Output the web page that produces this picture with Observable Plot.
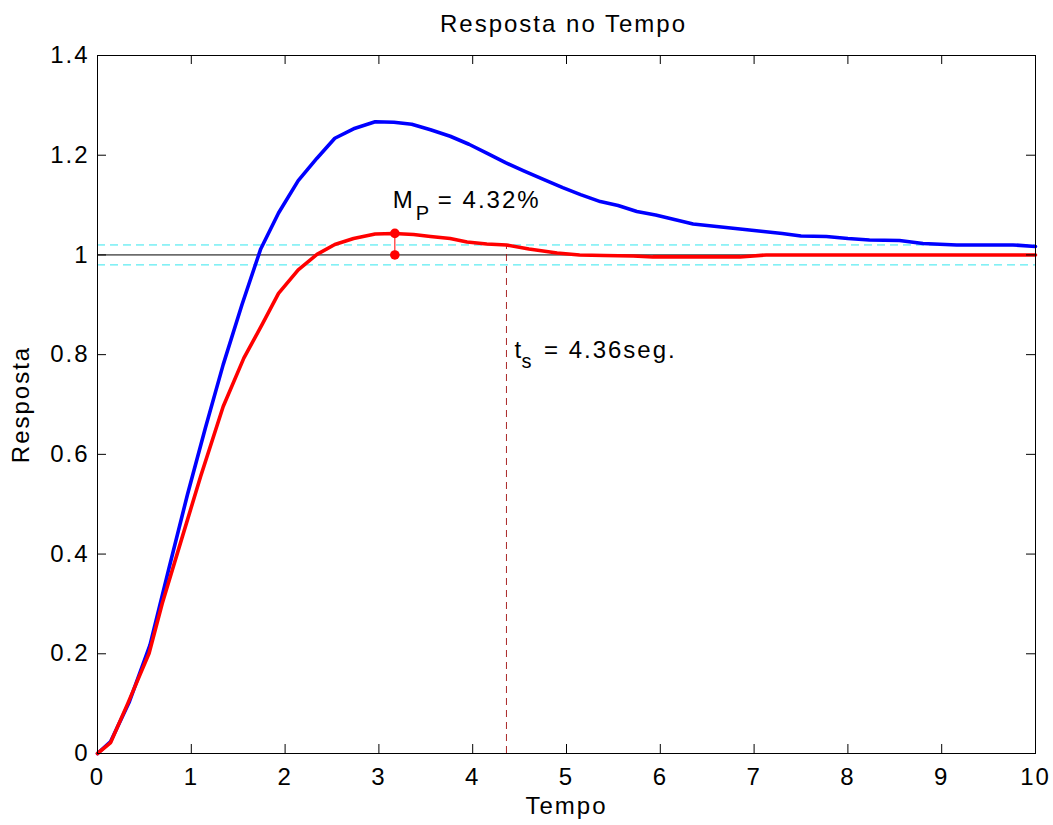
<!DOCTYPE html>
<html>
<head>
<meta charset="utf-8">
<script src="https://cdn.jsdelivr.net/npm/d3@7"></script>
<script src="https://cdn.jsdelivr.net/npm/@observablehq/plot@0.6"></script>
<style>
  html, body { margin: 0; padding: 0; background: #ffffff; }
  #chart svg { display: block; }
</style>
</head>
<body>
<div id="chart"></div>
<script>
// ---------- data ----------
const timeBlue = [0, 0.14, 0.34, 0.56, 0.76, 0.96, 1.15, 1.34, 1.54, 1.74, 1.93, 2.14, 2.34, 2.53, 2.73, 2.96, 3.16, 3.35, 3.55, 3.76, 3.96, 4.15, 4.35, 4.55, 4.76, 4.96, 5.15, 5.36, 5.55, 5.75, 5.95, 6.15, 6.35, 6.6, 6.85, 7.1, 7.3, 7.5, 7.77, 8.0, 8.23, 8.55, 8.8, 9.16, 9.76, 10];
const respBlue = [0, 0.024, 0.104, 0.218, 0.37, 0.52, 0.653, 0.78, 0.9, 1.012, 1.084, 1.149, 1.194, 1.234, 1.253, 1.267, 1.266, 1.262, 1.251, 1.238, 1.222, 1.204, 1.185, 1.168, 1.151, 1.135, 1.121, 1.107, 1.099, 1.087, 1.08, 1.071, 1.062, 1.057, 1.052, 1.047, 1.043, 1.038, 1.037, 1.033, 1.03, 1.029, 1.023, 1.02, 1.02, 1.017];

const timeRed = [0, 0.14, 0.32, 0.55, 0.69, 0.9, 1.1, 1.34, 1.56, 1.76, 1.93, 2.14, 2.34, 2.53, 2.73, 2.96, 3.16, 3.37, 3.55, 3.76, 3.94, 4.15, 4.36, 4.6, 4.9, 5.14, 5.4, 5.71, 5.92, 6.3, 6.85, 6.92, 7.13, 8, 9, 10];
const respRed = [0, 0.022, 0.099, 0.201, 0.301, 0.432, 0.556, 0.696, 0.793, 0.862, 0.923, 0.97, 1.001, 1.021, 1.033, 1.042, 1.043, 1.041, 1.037, 1.033, 1.026, 1.022, 1.02, 1.012, 1.004, 1.0, 0.999, 0.998, 0.996, 0.996, 0.996, 0.997, 1.0, 1.0, 1.0, 1.0];

const xTicks = [0, 1, 2, 3, 4, 5, 6, 7, 8, 9, 10];
const xTickLabels = ["0", "1", "2", "3", "4", "5", "6", "7", "8", "9", "10"];
const yTicks = [0, 0.2, 0.4, 0.6, 0.8, 1, 1.2, 1.4];
const yTickLabels = ["0", "0.2", "0.4", "0.6", "0.8", "1", "1.2", "1.4"];

const finalValue = [1];
const bandLevels = [0.98, 1.02];
const peakTime = 3.17;
const peakValue = 1.0432;
const settlingTime = 4.36;
const settlingLevel = 1.02;

const titleText = "Resposta no Tempo";
const xLabelText = "Tempo";
const yLabelText = "Resposta";
const mpMain = "M", mpSub = "P", mpRest = "= 4.32%";
const tsMain = "t", tsSub = "s", tsRest = "= 4.36seg.";

// ---------- build ----------
const blue = timeBlue.map((t, i) => ({t, v: respBlue[i]}));
const red = timeRed.map((t, i) => ({t, v: respRed[i]}));
const FONT = '"Liberation Sans", Arial, Helvetica, sans-serif';
const W = 1053, H = 825;
const mL = 97, mR = 18, mT = 55, mB = 72;
const frameW = W - mL - mR, frameH = H - mT - mB;
const tickLen = 9;
const xMid = 5, yMid = 0.7, yTop = 1.4, yBottom = 0;

const chart = Plot.plot({
  width: W,
  height: H,
  marginLeft: mL,
  marginRight: mR,
  marginTop: mT,
  marginBottom: mB,
  style: {fontFamily: FONT, fontSize: "24px", letterSpacing: "2px", color: "black", background: "white", overflow: "visible"},
  x: {domain: [0, 10], ticks: xTicks, tickSize: 0, tickPadding: 14, tickFormat: d => xTickLabels[xTicks.indexOf(d)], label: null},
  y: {domain: [0, 1.4], ticks: yTicks, tickSize: 0, tickPadding: 8, tickFormat: d => yTickLabels[yTicks.indexOf(d)], label: null},
  marks: [
    // reference lines
    Plot.ruleY(bandLevels, {y: d => d, stroke: "#33e6ee", strokeWidth: 1, strokeDasharray: "8,5"}),
    Plot.ruleY(finalValue, {y: d => d, stroke: "black", strokeWidth: 1}),
    Plot.ruleX([settlingTime], {x: d => d, y1: 0, y2: settlingLevel, stroke: "#a01010", strokeWidth: 0.9, strokeDasharray: "7,5"}),
    // curves
    Plot.line(blue, {x: "t", y: "v", stroke: "#0000ff", strokeWidth: 3.6, strokeLinejoin: "round"}),
    Plot.line(red, {x: "t", y: "v", stroke: "#ff0000", strokeWidth: 3.6, strokeLinejoin: "round"}),
    // peak markers
    Plot.ruleX([peakTime], {x: d => d, y1: finalValue[0], y2: peakValue, stroke: "#ff0000", strokeWidth: 1}),
    Plot.dot([{t: peakTime, v: peakValue}, {t: peakTime, v: finalValue[0]}], {x: "t", y: "v", r: 4.8, fill: "#ff0000", stroke: "none"}),
    // frame and inward ticks on all sides
    Plot.frame({stroke: "black", strokeWidth: 1}),
    Plot.tickX(xTicks, {x: d => d, insetTop: frameH - tickLen, stroke: "black", strokeWidth: 1}),
    Plot.tickX(xTicks, {x: d => d, insetBottom: frameH - tickLen, stroke: "black", strokeWidth: 1}),
    Plot.tickY(yTicks, {y: d => d, insetRight: frameW - tickLen, stroke: "black", strokeWidth: 1}),
    Plot.tickY(yTicks, {y: d => d, insetLeft: frameW - tickLen, stroke: "black", strokeWidth: 1}),
    // annotations
    Plot.text([mpMain], {x: () => peakTime, y: () => peakValue, text: d => d, textAnchor: "start", dx: -2, dy: -33, fontSize: 24, fill: "black"}),
    Plot.text([mpSub], {x: () => peakTime, y: () => peakValue, text: d => d, textAnchor: "start", dx: 21, dy: -20, fontSize: 20, fill: "black"}),
    Plot.text([mpRest], {x: () => peakTime, y: () => peakValue, text: d => d, textAnchor: "start", dx: 43, dy: -33, fontSize: 24, fill: "black"}),
    Plot.text([tsMain], {x: () => settlingTime, y: () => 0.8, text: d => d, textAnchor: "start", dx: 8, dy: -4.5, fontSize: 24, fill: "black"}),
    Plot.text([tsSub], {x: () => settlingTime, y: () => 0.8, text: d => d, textAnchor: "start", dx: 15, dy: 7, fontSize: 20, fill: "black"}),
    Plot.text([tsRest], {x: () => settlingTime, y: () => 0.8, text: d => d, textAnchor: "start", dx: 37.5, dy: -4.5, fontSize: 24, fill: "black"}),
    // title and axis labels
    Plot.text([titleText], {x: () => xMid, y: () => yTop, text: d => d, textAnchor: "middle", dy: -31, dx: -3, fontSize: 24, fill: "black"}),
    Plot.text([xLabelText], {x: () => xMid, y: () => yBottom, text: d => d, textAnchor: "middle", dy: 53, fontSize: 24, fill: "black"}),
    Plot.text([yLabelText], {x: () => 0, y: () => yMid, text: d => d, rotate: -90, textAnchor: "middle", dx: -76, fontSize: 24, fill: "black"})
  ]
});
document.getElementById("chart").appendChild(chart);
</script>
</body>
</html>
